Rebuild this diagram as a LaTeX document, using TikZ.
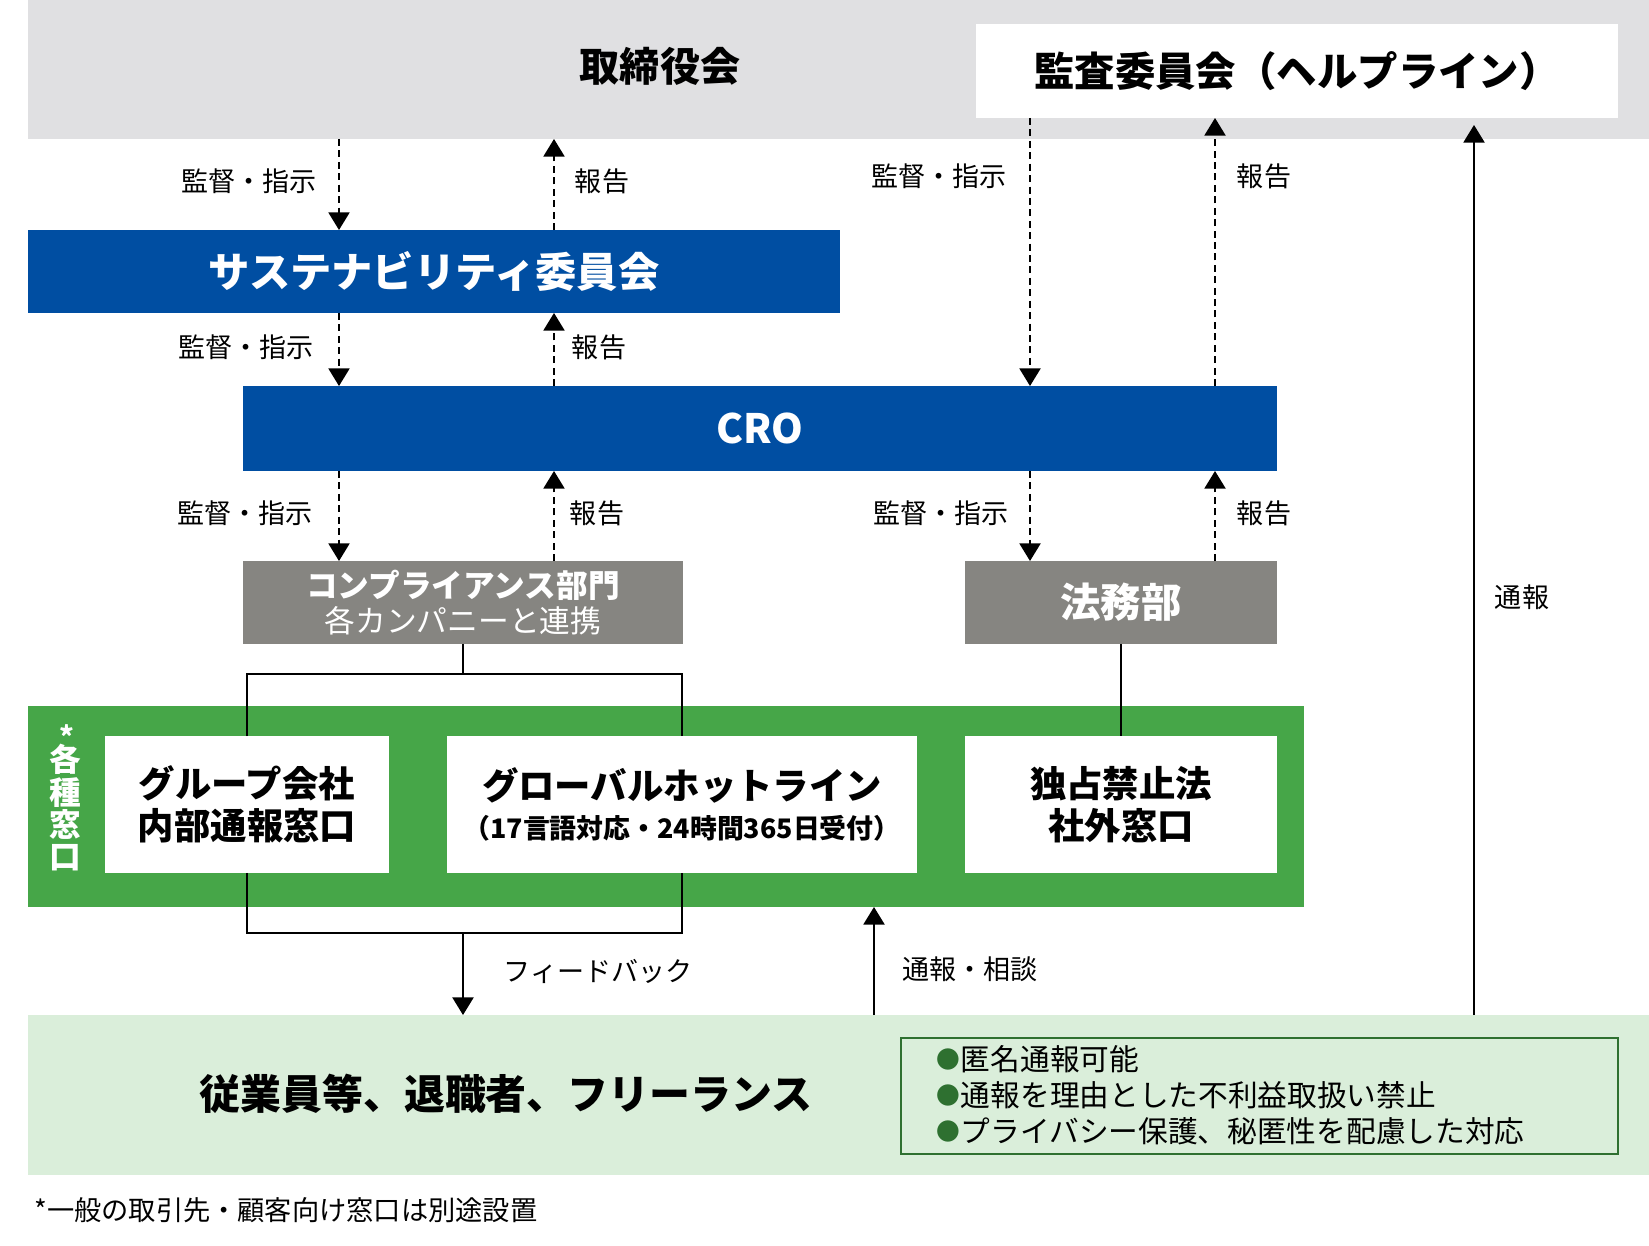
\documentclass[tikz,border=0pt]{standalone}
\usepackage{fontspec}
\setmainfont{Noto Sans CJK JP}
\usetikzlibrary{arrows.meta,calc}
\definecolor{bandgray}{RGB}{224,224,226}
\definecolor{blueA}{RGB}{0,78,162}
\definecolor{grayA}{RGB}{134,133,129}
\definecolor{greenA}{RGB}{70,166,72}
\definecolor{greenL}{RGB}{218,238,218}
\definecolor{greenD}{RGB}{46,112,48}
\newcommand{\gbul}{\textcolor{greenD}{\raisebox{0.8pt}{\fontsize{13.5}{14}\selectfont ●}}\hspace{0.5pt}}
\newcommand{\topstar}{\makebox[0pt][l]{\makebox[1em]{\hspace{0.15em}\smash{\raisebox{0.78em}{\fontsize{16}{18}\selectfont *}}}}}
\begin{document}
\begin{tikzpicture}[x=0.02cm,y=-0.02cm,
  box/.style={rectangle,inner sep=0pt,outer sep=0pt,align=center},
  lbl/.style={inner sep=0pt,font=\fontsize{15.4}{18}\selectfont},
  dasharrow/.style={line width=0.9pt,dash pattern=on 4pt off 2.5pt,-{Triangle[width=12pt,length=10pt]}},
  solarrow/.style={line width=1pt,-{Triangle[width=12pt,length=10pt]}},
  conn/.style={line width=1pt}]
\useasboundingbox (0,0) rectangle (1649,1246);
% top band
\node[box,fill=bandgray,minimum width=32.42cm,minimum height=2.78cm] (board) at (838.5,69.5) {};
\node[inner sep=0pt,font=\fontsize{22.8}{26}\selectfont\bfseries] (boardlbl) at (660,66) {取締役会};
\node[box,fill=white,minimum width=12.84cm,minimum height=1.88cm,font=\fontsize{23}{26}\selectfont\bfseries] (audit) at (1297,71) {監査委員会（ヘルプライン）};
% blue boxes
\node[box,fill=blueA,text=white,minimum width=16.24cm,minimum height=1.66cm,font=\fontsize{23.5}{26}\selectfont\bfseries] (sus) at (434,271.5) {サステナビリティ委員会};
\node[box,fill=blueA,text=white,minimum width=20.68cm,minimum height=1.70cm,font=\fontsize{23}{26}\selectfont\bfseries] (cro) at (760,428.5) {CRO};
% gray boxes
\node[box,fill=grayA,text=white,minimum width=8.80cm,minimum height=1.66cm,font=\fontsize{18}{20}\selectfont] (comp) at (463,602.5)
  {{\bfseries コンプライアンス部門}\\{\fontsize{17.5}{20}\selectfont 各カンパニーと連携}};
\node[box,fill=grayA,text=white,minimum width=6.24cm,minimum height=1.66cm,font=\fontsize{23}{26}\selectfont\bfseries] (legal) at (1121,602.5) {法務部};
% green band
\node[box,fill=greenA,minimum width=25.52cm,minimum height=4.02cm] (gband) at (666,806.5) {};
\node[inner sep=0pt,text=white,align=center,font=\fontsize{18}{18.4}\selectfont\bfseries] (gtag) at (65,808) {\topstar 各\\種\\窓\\口};
\node[box,fill=white,minimum width=5.68cm,minimum height=2.74cm,font=\fontsize{20.7}{24}\selectfont\bfseries] (grp) at (247,804.5) {グループ会社\\内部通報窓口};
\node[box,fill=white,minimum width=9.40cm,minimum height=2.74cm,font=\fontsize{20.7}{22}\selectfont\bfseries] (glob) at (682,804.5)
  {グローバルホットライン\\{\fontsize{15.3}{18}\selectfont （17言語対応・24時間365日受付）}};
\node[box,fill=white,minimum width=6.24cm,minimum height=2.74cm,font=\fontsize{20.7}{24}\selectfont\bfseries] (anti) at (1121,804.5) {独占禁止法\\社外窓口};
% employees band
\node[box,fill=greenL,minimum width=32.42cm,minimum height=3.20cm] (emp) at (838.5,1095) {};
\node[inner sep=0pt,font=\fontsize{23.3}{26}\selectfont\bfseries] (emplbl) at (506,1094) {従業員等、退職者、フリーランス};
\node[box,draw=greenD,line width=1.2pt,minimum width=14.34cm,minimum height=2.32cm] (notebox) at (1259.5,1096) {};
\node[inner sep=0pt,anchor=west,align=left,font=\fontsize{16.9}{20.5}\selectfont] (notes) at (936,1095)
  {\gbul 匿名通報可能\\\gbul 通報を理由とした不利益取扱い禁止\\\gbul プライバシー保護、秘匿性を配慮した対応};
% footnote
\node[inner sep=0pt,anchor=west,font=\fontsize{15.5}{18}\selectfont] (foot) at (34,1210) {*一般の取引先・顧客向け窓口は別途設置};
% columns
\coordinate (c1) at (339,0);
\coordinate (c2) at (554,0);
\coordinate (c3) at (1030,0);
\coordinate (c4) at (1215,0);
\coordinate (c5) at (1474,0);
\coordinate (c6) at (874,0);
% arrows board <-> sus
\draw[dasharrow] (board.south -| c1) -- (sus.north -| c1);
\draw[dasharrow] (sus.north -| c2) -- (board.south -| c2);
% sus <-> cro
\draw[dasharrow] (sus.south -| c1) -- (cro.north -| c1);
\draw[dasharrow] (cro.north -| c2) -- (sus.south -| c2);
% audit <-> cro
\draw[dasharrow] (audit.south -| c3) -- (cro.north -| c3);
\draw[dasharrow] (cro.north -| c4) -- (audit.south -| c4);
% cro <-> comp
\draw[dasharrow] (cro.south -| c1) -- (comp.north -| c1);
\draw[dasharrow] (comp.north -| c2) -- (cro.south -| c2);
% cro <-> legal
\draw[dasharrow] (cro.south -| c3) -- (legal.north -| c3);
\draw[dasharrow] (legal.north -| c4) -- (cro.south -| c4);
% brackets
\coordinate (bt) at (463,674);
\coordinate (bb) at (463,933);
\draw[conn] (comp.south) -- (bt);
\draw[conn] (grp.north) |- (bt) -| (glob.north);
\draw[conn] (grp.south) |- (bb) -| (glob.south);
\draw[solarrow] (bb) -- (bb |- emp.north);
\draw[conn] (legal.south) -- (anti.north);
% reports from employees
\draw[solarrow] (emp.north -| c6) -- (gband.south -| c6);
\draw[solarrow] (emp.north -| c5) -- ($(audit.south -| c5)+(0,7)$);
% labels
\node[lbl] (l1) at (249,181) {監督・指示};
\node[lbl] (l2) at (602,181) {報告};
\node[lbl] (l3) at (939,176) {監督・指示};
\node[lbl] (l4) at (1264,176) {報告};
\node[lbl] (l5) at (246,347) {監督・指示};
\node[lbl] (l6) at (599,347) {報告};
\node[lbl] (l7) at (245,513) {監督・指示};
\node[lbl] (l8) at (597,513) {報告};
\node[lbl] (l9) at (941,513) {監督・指示};
\node[lbl] (l10) at (1264,513) {報告};
\node[lbl] (l11) at (1522,597) {通報};
\node[lbl] (l12) at (598,971) {フィードバック};
\node[lbl] (l13) at (970,969) {通報・相談};
\end{tikzpicture}
\end{document}
